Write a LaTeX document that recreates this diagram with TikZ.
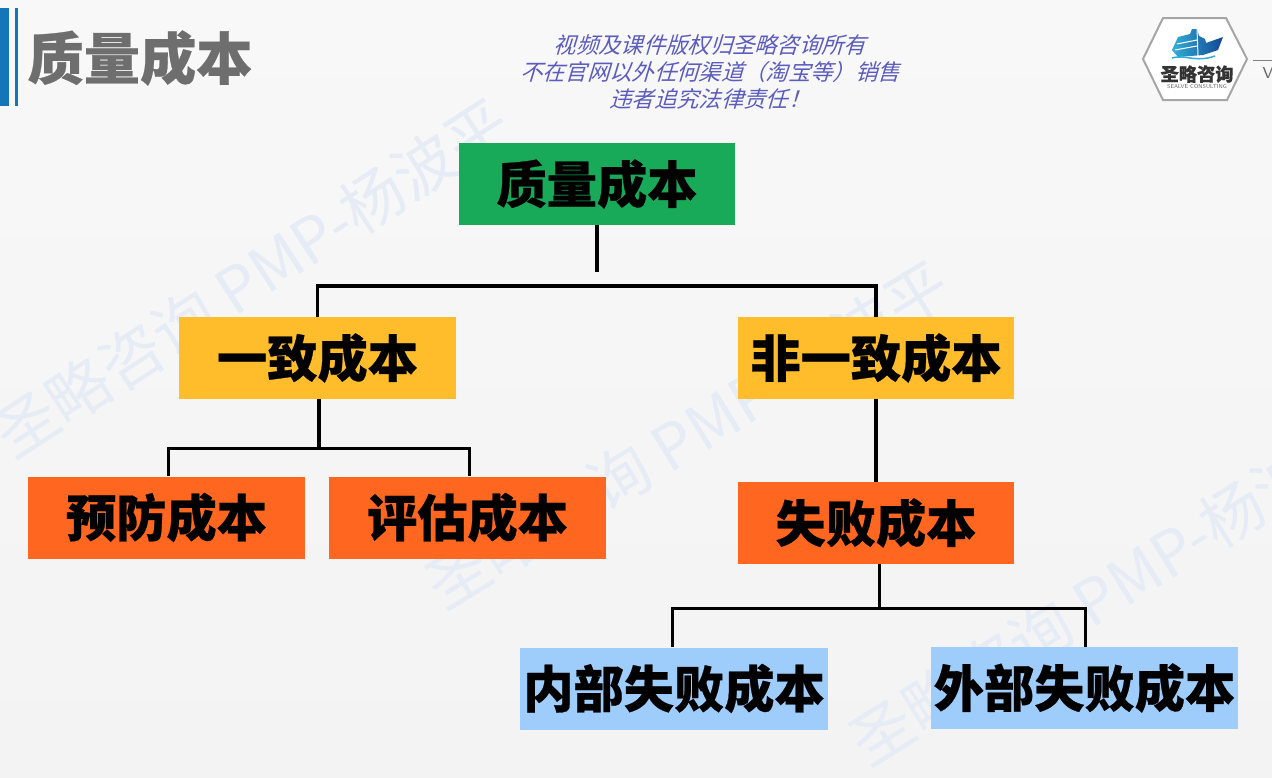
\documentclass[tikz,border=0pt]{standalone}
\usepackage{fontspec}
\newfontfamily\cjkbox[BoldFeatures={FakeBold=0.5}]{Noto Sans CJK SC}
\newfontfamily\cjkplain{Noto Sans CJK SC}
\newfontfamily\cjkslant[FakeSlant=0.3]{Noto Sans CJK SC}
\definecolor{pagetop}{RGB}{248,248,249}
\definecolor{pagelow}{RGB}{243,243,244}
\definecolor{markblue}{RGB}{230,236,245}
\definecolor{barblue}{RGB}{20,118,184}
\definecolor{topgreen}{RGB}{24,170,88}
\definecolor{midyellow}{RGB}{255,189,43}
\definecolor{loworange}{RGB}{255,102,31}
\definecolor{leafblue}{RGB}{158,205,252}
\definecolor{titlegray}{RGB}{110,110,110}
\definecolor{noteblue}{RGB}{92,92,190}
\definecolor{shipdark}{RGB}{20,70,150}
\definecolor{shiplight}{RGB}{50,175,215}
\tikzset{
  costbox/.style={minimum width=5.54cm,minimum height=1.64cm,inner sep=0pt,
    font=\cjkbox\bfseries\fontsize{28.6}{32}\selectfont},
  link/.style={line width=0.07cm,black},
  thinlink/.style={line width=0.06cm,black},
  watermark/.style={text=markblue,font=\cjkplain\fontsize{35.5}{40}\selectfont}
}
\begin{document}
\begin{tikzpicture}[x=0.02cm,y=-0.02cm]
    \useasboundingbox (0,0) rectangle (1272,778);
    \begin{scope}
    \clip (0,0) rectangle (1272,778);
    \fill[top color=pagetop,bottom color=pagelow] (0,0) rectangle (1272,778);
    \node[watermark,rotate=33] (markA) at (252,278) {圣略咨询 PMP-杨波平};
    \node[watermark,rotate=31.5] (markB) at (688,435) {圣略咨询 PMP-杨波平};
    \node[watermark,rotate=32] (markC) at (1110,590) {圣略咨询 PMP-杨波平};
    \end{scope}

    % heading
    \fill[barblue] (0,8) rectangle (9,106);
    \fill[barblue] (15,8) rectangle (18,106);
    \node[text=titlegray,font=\cjkbox\bfseries\fontsize{32}{36}\selectfont] (title) at (140,58) {质量成本};
    \node[text=noteblue,align=center,font=\cjkslant\fontsize{12.7}{15.4}\selectfont] (note) at (710,72)
        {视频及课件版权归圣略咨询所有\\不在官网以外任何渠道（淘宝等）销售\\违者追究法律责任！};

    % logo
    \draw[line width=0.04cm,gray!70,fill=white] (1143,59)--(1163,18)--(1226,18)--(1247,59)--(1227,100)--(1163,100)--cycle;
    \shade[left color=shiplight,right color=shipdark] (1172,50)--(1178,37)--(1190,34)--(1192,29)--(1197,29)--(1199,36)--(1205,39)--(1206,43)--(1223,37)--(1218,50)--(1203,55)--(1178,57)--cycle;
    \draw[white,line width=0.02cm] (1177,44)--(1197,40) (1175,50)--(1197,46) (1197,29)--(1198,56);
    \draw[shiplight,line width=0.03cm] (1172,58)..controls (1185,54) and (1195,63) ..(1215,56);
    \node[font=\cjkbox\bfseries\fontsize{10.4}{12}\selectfont,text=black!80] (logotext) at (1197,74) {圣略咨询};
    \node[font=\sffamily\fontsize{3.2}{4}\selectfont,text=black!60] (logosub) at (1197,87) {SEALVE CONSULTING};
    \coordinate (ruleL) at (1253,60);
    \coordinate (ruleR) at (1272,60);
    \draw[gray,line width=0.02cm] (ruleL)--(ruleR);
    \node[font=\sffamily\fontsize{9}{10}\selectfont,text=black!60] (web) at (1268,73) {V};

    % boxes
    \node[costbox,fill=topgreen] (quality) at (597,184) {质量成本};
    \node[costbox,fill=midyellow] (conform) at (317.5,358) {一致成本};
    \node[costbox,fill=midyellow] (nonconform) at (876,358) {非一致成本};
    \node[costbox,fill=loworange] (prevent) at (166.5,517.5) {预防成本};
    \node[costbox,fill=loworange] (appraise) at (467.5,517.5) {评估成本};
    \node[costbox,fill=loworange] (failure) at (876,523) {失败成本};
    \node[costbox,fill=leafblue,minimum width=6.16cm] (internal) at (674,688.5) {内部失败成本};
    \node[costbox,fill=leafblue,minimum width=6.14cm] (external) at (1084.5,688) {外部失败成本};

    \coordinate (stemA) at (597,272);
    \coordinate (busA) at (597,286);
    \coordinate (busB) at (319,448);
    \coordinate (busC) at (879,608);
    \coordinate (legP) at (168,448);
    \coordinate (legQ) at (469,448);
    \coordinate (legR) at (672,608);
    \coordinate (legS) at (1085,608);

    % connectors
    \draw[link] (quality.south)--(stemA);
    \draw[link] (conform.north)--(conform.north |- busA)--(nonconform.north |- busA)--(nonconform.north);
    \draw[link] (busB |- conform.south)--(busB);
    \draw[thinlink] (legP |- prevent.north)--(legP)--(legQ)--(legQ |- appraise.north);
    \draw[link] (nonconform.south)--(failure.north);
    \draw[thinlink] (busC |- failure.south)--(busC);
    \draw[thinlink] (legR |- internal.north)--(legR)--(legS)--(legS |- external.north);
\end{tikzpicture}
\end{document}
